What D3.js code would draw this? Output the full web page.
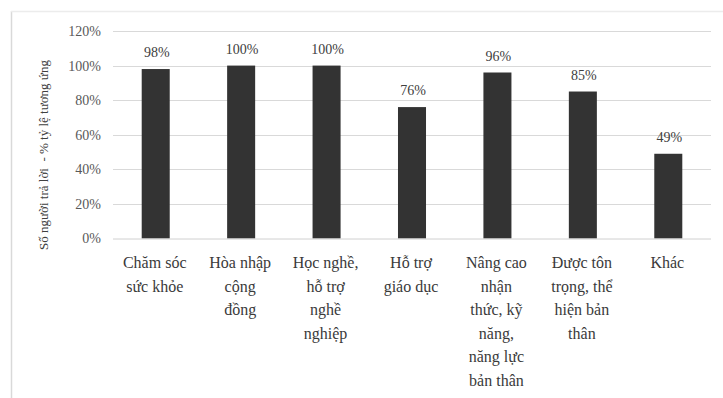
<!DOCTYPE html>
<html>
<head>
<meta charset="utf-8">
<script src="https://cdn.jsdelivr.net/npm/d3@7/dist/d3.min.js"></script>
<style>
  html, body { margin: 0; padding: 0; background: #fff; }
  svg text { font-family: "Liberation Serif", "Times New Roman", serif !important; }
</style>
</head>
<body>
<svg id="chart" width="723" height="398"></svg>
<script>
// Categories (each entry holds the wrapped lines of its axis label)
const categories = [
  ["Chăm sóc", "sức khỏe"],
  ["Hòa nhập", "cộng", "đồng"],
  ["Học nghề,", "hỗ trợ", "nghề", "nghiệp"],
  ["Hỗ trợ", "giáo dục"],
  ["Nâng cao", "nhận", "thức, kỹ", "năng,", "năng lực", "bản thân"],
  ["Được tôn", "trọng, thể", "hiện bản", "thân"],
  ["Khác"]
];
// Share of respondents, percent
const values = [98, 100, 100, 76, 96, 85, 49];
const yTicks = [0, 20, 40, 60, 80, 100, 120];
const yTitle = "Số người trả lời  - % tỷ lệ tương ứng";

const svg = d3.select("#chart");

// Outer frame edges
svg.append("line").attr("x1", 11.5).attr("x2", 11.5).attr("y1", 11).attr("y2", 398)
  .attr("stroke", "#d9d9d9").attr("stroke-width", 1.5);
svg.append("line").attr("x1", 11).attr("x2", 723).attr("y1", 11.5).attr("y2", 11.5)
  .attr("stroke", "#ececec").attr("stroke-width", 1.5);

const keys = categories.map((d, i) => i);
const x = d3.scaleBand().domain(keys).range([113, 711]).paddingInner(0.672).paddingOuter(0.336);
const y = d3.scaleLinear().domain([0, 120]).range([238.5, 31]);

// Horizontal gridlines
svg.append("g").selectAll("line").data(yTicks.filter(t => t > 0)).join("line")
  .attr("x1", 113).attr("x2", 711)
  .attr("y1", d => Math.round(y(d)) + 0.5).attr("y2", d => Math.round(y(d)) + 0.5)
  .attr("stroke", "#d9d9d9").attr("stroke-width", 1);

// Y axis tick labels
const yAxis = d3.axisLeft(y).tickValues(yTicks).tickFormat(d => d + "%").tickSize(0).tickPadding(0);
const gy = svg.append("g").attr("transform", "translate(101,0)").call(yAxis);
gy.select(".domain").remove();
gy.selectAll("text").attr("font-size", 14).attr("fill", "#595959");

// Bars
svg.append("g").selectAll("rect").data(values).join("rect")
  .attr("x", (d, i) => x(i))
  .attr("y", d => y(d))
  .attr("width", x.bandwidth())
  .attr("height", d => y(0) - y(d))
  .attr("fill", "#333333");

// Baseline
svg.append("line").attr("x1", 113).attr("x2", 711)
  .attr("y1", y(0) + 0.5).attr("y2", y(0) + 0.5)
  .attr("stroke", "#d0d0d0").attr("stroke-width", 1);

// Value labels
svg.append("g").selectAll("text").data(values).join("text")
  .attr("x", (d, i) => x(i) + x.bandwidth() / 2 + 1)
  .attr("y", d => y(d) - 12)
  .attr("text-anchor", "middle")
  .attr("font-size", 14)
  .attr("fill", "#404040")
  .text(d => d + "%");

// Category labels, one tspan per line
const xAxis = svg.append("g");
categories.forEach((lines, i) => {
  const cx = x(i) + x.bandwidth() / 2 - 1;
  const t = xAxis.append("text")
    .attr("x", cx)
    .attr("y", 268)
    .attr("text-anchor", "middle")
    .attr("font-size", 16)
    .attr("fill", "#3a3a3a");
  lines.forEach((ln, j) => {
    t.append("tspan").attr("x", cx).attr("dy", j === 0 ? 0 : 23.6).text(ln);
  });
});

// Y axis title
svg.append("text")
  .attr("transform", "translate(48,155) rotate(-90)")
  .attr("text-anchor", "middle")
  .attr("font-size", 13)
  .attr("fill", "#404040")
  .style("white-space", "pre")
  .text(yTitle);
</script>
</body>
</html>
